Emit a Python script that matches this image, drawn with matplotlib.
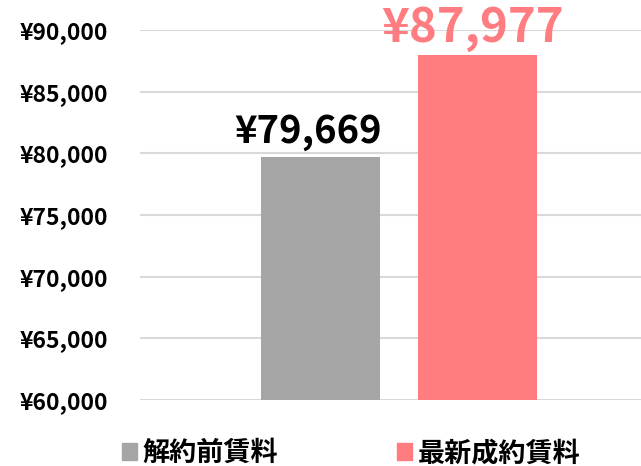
import matplotlib.pyplot as plt
import matplotlib.ticker as ticker
from matplotlib.patches import Patch

# data
categories = ["解約前賃料", "最新成約賃料"]
values = [79669, 87977]
colors = ["#A5A5A5", "#FF7C80"]
label_colors = ["#000000", "#FF7C80"]
label_sizes = [27.5, 34]
label_dx = [-12, -5]      # px offsets of the value labels
label_dy = [15, 13]

plt.rcParams['font.family'] = ['Noto Sans CJK JP', 'DejaVu Sans']

fig = plt.figure(figsize=(6.41, 4.66), dpi=100)
ax = fig.add_axes([140 / 641, 1 - 400 / 466, 1 - 140 / 641, 370 / 466])

pos = [0, 1]
bars = ax.bar(pos, values, width=0.758, color=colors, zorder=3)

ax.set_ylim(60000, 90000)
ax.set_xlim(-1.15, 2.041)
ax.yaxis.set_major_locator(ticker.MultipleLocator(5000))
ax.yaxis.set_major_formatter(ticker.FuncFormatter(lambda v, p: f"¥{int(v):,}"))
ax.grid(axis='y', color='#D9D9D9', linewidth=1.5, zorder=0)
ax.set_xticks([])
for s in ax.spines.values():
    s.set_visible(False)
ax.tick_params(axis='y', length=0, pad=23, labelsize=16.5)
for t in ax.get_yticklabels():
    t.set_fontweight('bold')

for b, v, c, fs, dx, dy in zip(bars, values, label_colors, label_sizes, label_dx, label_dy):
    ax.annotate(f"¥{v:,}", (b.get_x() + b.get_width() / 2, v),
                xytext=(dx * 0.72, dy * 0.72), textcoords='offset points',
                ha='center', va='baseline', color=c, fontsize=fs,
                fontweight='bold', annotation_clip=False)

handles = [Patch(color=c, label=l) for c, l in zip(colors, categories)]
fig.legend(handles=handles, loc='center', bbox_to_anchor=(351 / 641, 1 - 453 / 466),
           ncol=2, frameon=False, handlelength=0.55, handleheight=0.55,
           handletextpad=0.2, columnspacing=4.4,
           prop={'size': 19.5, 'weight': 'bold'})

fig.savefig("out.png", dpi=100)
